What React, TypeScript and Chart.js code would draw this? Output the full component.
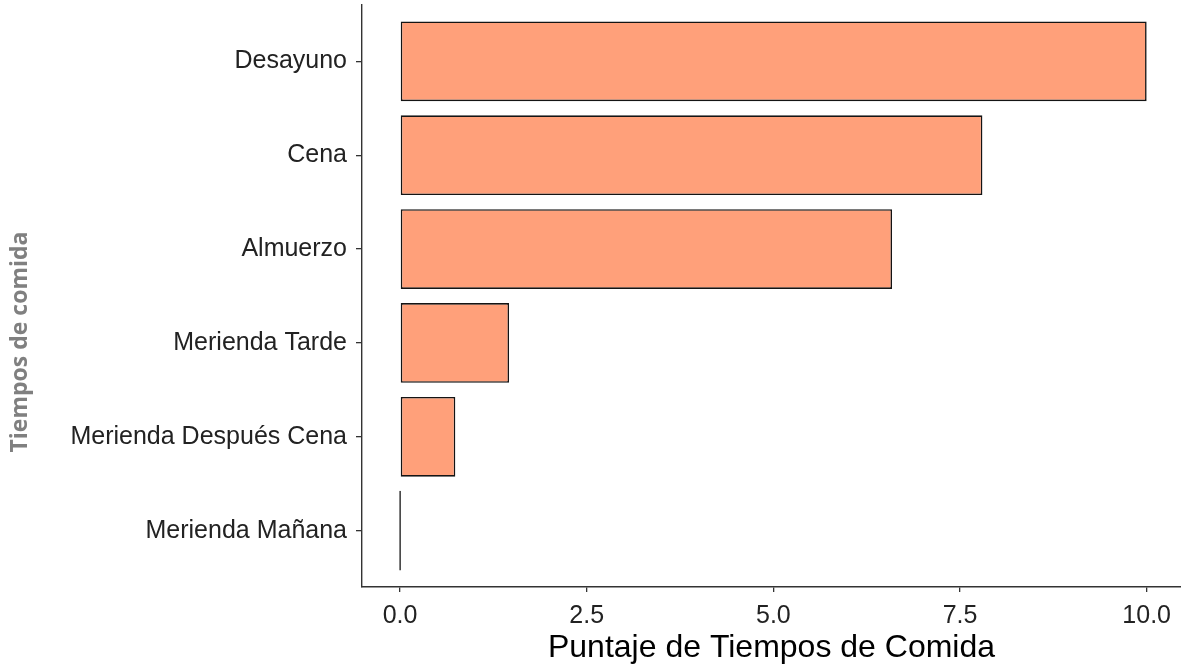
import React, { useEffect, useRef } from "react";
import { Chart, registerables } from "chart.js";

Chart.register(...registerables);

const categories = [
  "Desayuno",
  "Cena",
  "Almuerzo",
  "Merienda Tarde",
  "Merienda Después Cena",
  "Merienda Mañana",
];
const scores = [10.0, 7.8, 6.59, 1.46, 0.74, 0];
const xTicks = [0, 2.5, 5.0, 7.5, 10.0];
const xTitle = "Puntaje de Tiempos de Comida";
const yTitle = "Tiempos de comida";

const sideTitlePlugin = {
  id: "sideTitle",
  afterDraw(chart: any) {
    const ctx = chart.ctx;
    ctx.save();
    ctx.translate(20, 342);
    ctx.rotate(-Math.PI / 2);
    ctx.font = "bold 23px 'Open Sans'";
    ctx.fillStyle = "#808080";
    ctx.textAlign = "center";
    ctx.textBaseline = "middle";
    ctx.fillText(yTitle, 0, 0);
    ctx.restore();
  },
};

export default function App() {
  const canvasRef = useRef<HTMLCanvasElement | null>(null);

  useEffect(() => {
    if (!canvasRef.current) return;
    const data = scores.map((v, i) => ({ x: v, y: i + 1 }));
    const chart = new Chart(canvasRef.current, {
      type: "bar",
      data: {
        datasets: [
          {
            data: data as any,
            backgroundColor: "#FFA07A",
            borderColor: "#141414",
            borderWidth: 1.6,
            borderSkipped: false,
            barPercentage: 0.85,
            categoryPercentage: 1,
            minBarLength: 1.6,
          },
        ],
      },
      options: {
        indexAxis: "y",
        animation: false,
        responsive: true,
        maintainAspectRatio: false,
        layout: { padding: { top: 5, left: 0, right: 0, bottom: 0 } },
        plugins: {
          legend: { display: false },
          tooltip: { enabled: false },
        },
        scales: {
          x: {
            type: "linear",
            min: -0.51,
            max: 10.46,
            offset: false,
            afterBuildTicks: (scale: any) => {
              scale.ticks = xTicks.map((v) => ({ value: v }));
            },
            afterFit: (scale: any) => {
              scale.height = 79;
              scale.paddingLeft = 0;
              scale.paddingRight = 0;
            },
            grid: {
              display: true,
              offset: false,
              drawOnChartArea: false,
              drawTicks: true,
              tickLength: 5,
              color: "#333333",
              lineWidth: 1.3,
            },
            border: { display: true, color: "#333333", width: 1.4 },
            ticks: {
              padding: 9,
              color: "#222222",
              font: { family: "'Liberation Sans', Arial, sans-serif", size: 25 },
              callback: (v: any) => Number(v).toFixed(1),
            },
            title: {
              display: true,
              text: xTitle,
              color: "#000000",
              font: { family: "'Liberation Sans', Arial, sans-serif", size: 32, lineHeight: 1.1 },
              padding: { top: 0, bottom: 0 },
            },
          },
          y: {
            type: "linear",
            reverse: true,
            min: 0.4,
            max: 6.6,
            offset: false,
            afterBuildTicks: (scale: any) => {
              scale.ticks = categories.map((_, i) => ({ value: i + 1 }));
            },
            afterFit: (scale: any) => {
              scale.width = 362;
              scale.paddingTop = 0;
              scale.paddingBottom = 0;
            },
            grid: {
              display: true,
              offset: false,
              drawOnChartArea: false,
              drawTicks: true,
              tickLength: 6,
              color: "#333333",
              lineWidth: 1.3,
            },
            border: { display: true, color: "#333333", width: 1.4 },
            ticks: {
              padding: 9,
              color: "#222222",
              font: { family: "'Liberation Sans', Arial, sans-serif", size: 25 },
              callback: (v: any) => categories[Math.round(Number(v)) - 1] ?? "",
            },
          },
        },
      },
      plugins: [sideTitlePlugin],
    });
    return () => chart.destroy();
  }, []);

  return (
    <div
      style={{
        position: "fixed",
        left: 0,
        top: 0,
        width: 1181,
        height: 666,
        background: "#ffffff",
      }}
    >
      <canvas ref={canvasRef} />
    </div>
  );
}
